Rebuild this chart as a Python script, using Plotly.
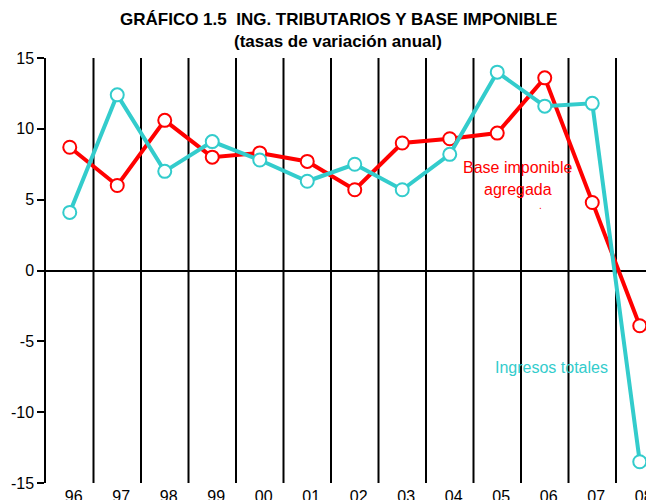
import plotly.graph_objects as go

years = ["96", "97", "98", "99", "00", "01", "02", "03", "04", "05", "06", "07", "08"]
base_imponible = [8.7, 6.0, 10.6, 8.0, 8.3, 7.7, 5.7, 9.0, 9.3, 9.7, 13.6, 4.8, -3.9]
ingresos_totales = [4.1, 12.4, 7.0, 9.1, 7.8, 6.3, 7.5, 5.7, 8.2, 14.0, 11.6, 11.8, -13.5]
y_ticks = [-15, -10, -5, 0, 5, 10, 15]
y_ticklabels = ["-15", "-10", "-5", "0", "5", "10", "15"]

RED = "#FF0000"
CYAN = "#33CCCC"
FONT = "Liberation Sans, Arial, sans-serif"

xs = list(range(len(years)))

fig = go.Figure()
fig.add_trace(go.Scatter(
    x=xs, y=base_imponible, mode="lines+markers", name="Base imponible agregada",
    line=dict(color=RED, width=4),
    marker=dict(symbol="circle", size=13, color="white", line=dict(color=RED, width=2)),
))
fig.add_trace(go.Scatter(
    x=xs, y=ingresos_totales, mode="lines+markers", name="Ingresos totales",
    line=dict(color=CYAN, width=4),
    marker=dict(symbol="circle", size=13, color="white", line=dict(color=CYAN, width=2)),
))

# vertical separators between categories
for i in range(len(years) - 1):
    fig.add_shape(type="line", xref="x", yref="y", x0=i + 0.5, x1=i + 0.5, y0=-15, y1=15,
                  line=dict(color="black", width=2), layer="below")

# titles
fig.add_annotation(x=0.481, y=1.09, xref="paper", yref="paper", yanchor="middle", showarrow=False,
                   text="<b>GRÁFICO 1.5  ING. TRIBUTARIOS Y BASE IMPONIBLE</b>",
                   font=dict(color="black", size=17, family=FONT))
fig.add_annotation(x=0.481, y=1.038, xref="paper", yref="paper", yanchor="middle", showarrow=False,
                   text="<b>(tasas de variación anual)</b>",
                   font=dict(color="black", size=17, family=FONT))

# series labels
fig.add_annotation(x=9.44, y=7.3, xref="x", yref="y", text="Base imponible", showarrow=False,
                   font=dict(color=RED, size=16, family=FONT))
fig.add_annotation(x=9.44, y=5.7, xref="x", yref="y", text="agregada", showarrow=False,
                   font=dict(color=RED, size=16, family=FONT))
fig.add_annotation(x=9.92, y=4.6, xref="x", yref="y", text=".", showarrow=False,
                   font=dict(color=RED, size=10, family=FONT))
fig.add_annotation(x=10.15, y=-6.85, xref="x", yref="y", text="Ingresos totales", showarrow=False,
                   font=dict(color=CYAN, size=16, family=FONT))

# page body has an 8px margin: shrink the figure so the plot sits where the reference's does
fig.update_layout(
    width=646, height=492,
    margin=dict(l=38, r=0, t=50, b=17, autoexpand=False),
    plot_bgcolor="white", paper_bgcolor="white",
    showlegend=False,
    font=dict(family=FONT, color="black"),
    xaxis=dict(
        range=[-0.5, 12.3], tickmode="array", tickvals=xs, ticktext=years,
        showgrid=False, zeroline=False, showline=False, ticks="", automargin=False,
        ticklabelshift=4, ticklabelstandoff=2,
        tickfont=dict(size=16, family=FONT, color="black"),
    ),
    yaxis=dict(
        range=[-15, 15], tickmode="array", tickvals=y_ticks, ticktext=y_ticklabels,
        showgrid=False, automargin=False,
        zeroline=True, zerolinecolor="black", zerolinewidth=2,
        showline=True, linecolor="black", linewidth=1.5,
        ticks="outside", ticklen=7, tickcolor="black", tickwidth=1.5,
        tickfont=dict(size=16, family=FONT, color="black"),
    ),
)

fig.write_html("out.html")
